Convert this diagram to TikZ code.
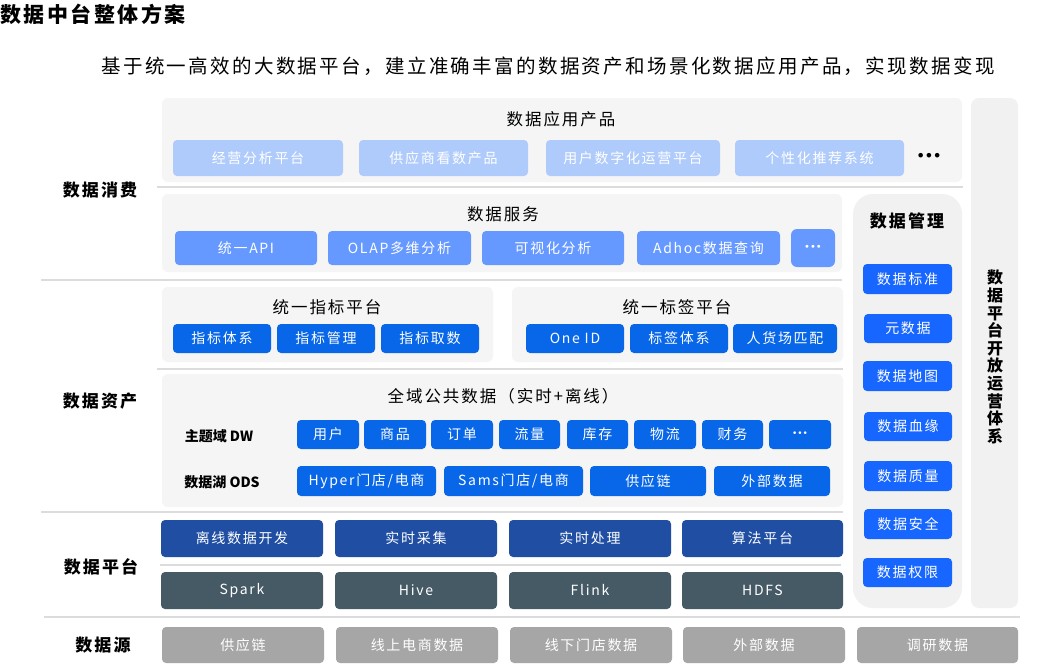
\documentclass[tikz,border=0pt]{standalone}
\usepackage{fontspec}
\setmainfont{Noto Sans CJK SC}
\newfontfamily\spfont{Noto Sans CJK SC}[LetterSpace=12]
\newfontfamily\dotfont{DejaVu Sans}
\definecolor{panelgray}{HTML}{F5F5F5}
\definecolor{colgray}{HTML}{F1F1F1}
\definecolor{sepgray}{HTML}{DCDCDC}
\definecolor{appblue}{HTML}{AFCBFC}
\definecolor{svcblue}{HTML}{6699FF}
\definecolor{idxblue}{HTML}{0866E8}
\definecolor{mgmtblue}{HTML}{1766FF}
\definecolor{pfone}{HTML}{1F4EA3}
\definecolor{pftwo}{HTML}{465A66}
\definecolor{srcgray}{HTML}{A6A6A6}
\newcommand\bx[7]{\node[#1,minimum width={#5-#3},minimum height={#6-#4}] (#2) at ({(#3+#5)/2},{(#4+#6)/2}) {#7};}
\tikzset{
  panel/.style={fill=panelgray,draw=none,rounded corners=6pt,inner sep=0pt},
  colbox/.style={fill=colgray,draw=none,inner sep=0pt},
  bxbase/.style={rectangle,rounded corners=4pt,text=white,inner sep=0pt,font=\spfont\fontsize{14}{14}\selectfont},
  appbox/.style={bxbase,fill=appblue},
  svcbox/.style={bxbase,fill=svcblue},
  idxbox/.style={bxbase,fill=idxblue},
  mgmtbox/.style={bxbase,fill=mgmtblue},
  pfonebox/.style={bxbase,fill=pfone},
  pftwobox/.style={bxbase,fill=pftwo},
  srcbox/.style={bxbase,fill=srcgray},
  sepline/.style={draw=sepgray,line width=1.2pt},
  lbl/.style={font=\spfont\bfseries\fontsize{17}{17}\selectfont},
  rowlbl/.style={font=\bfseries\fontsize{14}{14}\selectfont},
  ptitle/.style={font=\spfont\fontsize{16.5}{16.5}\selectfont},
}
\begin{document}
\begin{tikzpicture}[x=1pt,y=-1pt]
\useasboundingbox[fill=white] (0,0) rectangle (1041,670);
% title and subtitle
\node[anchor=west,inner sep=0pt,font=\spfont\bfseries\fontsize{21}{21}\selectfont] (title) at (0,14) {数据中台整体方案};
\node[inner sep=0pt,font=\spfont\fontsize{19.5}{19.5}\selectfont] (subtitle) at (548,66) {基于统一高效的大数据平台，建立准确丰富的数据资产和场景化数据应用产品，实现数据变现};
% right columns
\bx{colbox,rounded corners=8pt}{opencol}{971}{98}{1018}{608}{}
\node[inner sep=0pt,align=center,font=\bfseries\fontsize{16}{17.6}\selectfont] (opentxt) at (995,357) {数\\据\\平\\台\\开\\放\\运\\营\\体\\系};
\bx{colbox,rounded corners=20pt}{mgmtcol}{853}{194}{962}{608}{}
\node[lbl] (mgmttitle) at (907,221) {数据管理};
\bx{mgmtbox}{m1}{863}{264}{952}{294}{数据标准}
\bx{mgmtbox}{m2}{864}{314}{952}{343}{元数据}
\bx{mgmtbox}{m3}{863}{361}{952}{391}{数据地图}
\bx{mgmtbox}{m4}{864}{412}{952}{441}{数据血缘}
\bx{mgmtbox}{m5}{864}{461}{952}{491}{数据质量}
\bx{mgmtbox}{m6}{864}{509}{952}{539}{数据安全}
\bx{mgmtbox}{m7}{863}{558}{952}{587}{数据权限}
% separators
\coordinate (s1a) at (157,187); \coordinate (s1b) at (963,187);
\coordinate (s2a) at (41,280);  \coordinate (s2b) at (842,280);
\coordinate (s3a) at (157,369); \coordinate (s3b) at (843,369);
\coordinate (s4a) at (41,512);  \coordinate (s4b) at (843,512);
\coordinate (s5a) at (160,565); \coordinate (s5b) at (841,565);
\coordinate (s6a) at (44,617);  \coordinate (s6b) at (1020,617);
\draw[sepline] (s1a) -- (s1b);
\draw[sepline] (s2a) -- (s2b);
\draw[sepline] (s3a) -- (s3b);
\draw[sepline] (s4a) -- (s4b);
\draw[sepline] (s5a) -- (s5b);
\draw[sepline] (s6a) -- (s6b);
% left labels
\node[lbl] (lconsume) at (100,190) {数据消费};
\node[lbl] (lasset) at (100,401) {数据资产};
\node[lbl] (lplatform) at (101,567) {数据平台};
\node[lbl] (lsource) at (103,645) {数据源};
% data application products
\bx{panel}{papp}{162}{98}{962}{182}{}
\node[ptitle] (tapp) at (561,119) {数据应用产品};
\bx{appbox}{a1}{173}{140}{343}{176}{经营分析平台}
\bx{appbox}{a2}{359}{140}{528}{176}{供应商看数产品}
\bx{appbox}{a3}{546}{140}{720}{176}{用户数字化运营平台}
\bx{appbox}{a4}{735}{140}{904}{176}{个性化推荐系统}
\node[inner sep=0pt,font=\dotfont\bfseries\fontsize{13}{13}\selectfont] (adots) at (929,157) {•••};
% data services
\bx{panel}{psvc}{162}{194}{842}{272}{}
\node[ptitle] (tsvc) at (503,214) {数据服务};
\bx{svcbox}{v1}{175}{231}{317}{265}{统一API}
\bx{svcbox}{v2}{328}{231}{471}{265}{OLAP多维分析}
\bx{svcbox}{v3}{482}{231}{624}{265}{可视化分析}
\bx{svcbox}{v4}{637}{231}{780}{265}{Adhoc数据查询}
\bx{svcbox,rounded corners=6pt,font=\dotfont\fontsize{10}{10}\selectfont}{v5}{791}{229}{835}{267}{•••}
% indicator platform
\bx{panel}{pidx}{162}{287}{493}{362}{}
\node[ptitle] (tidx) at (327,307) {统一指标平台};
\bx{idxbox}{i1}{173}{324}{271}{353}{指标体系}
\bx{idxbox}{i2}{277}{324}{375}{353}{指标管理}
\bx{idxbox}{i3}{381}{324}{479}{353}{指标取数}
% tag platform
\bx{panel}{ptag}{512}{287}{843}{362}{}
\node[ptitle] (ttag) at (677,307) {统一标签平台};
\bx{idxbox}{g1}{526}{324}{624}{353}{One ID}
\bx{idxbox}{g2}{630}{324}{728}{353}{标签体系}
\bx{idxbox}{g3}{733}{324}{837}{353}{人货场匹配}
% public data
\bx{panel}{ppub}{162}{374}{843}{507}{}
\node[ptitle] (tpub) at (503,396) {全域公共数据（实时+离线）};
\node[rowlbl] (ldw) at (219,436) {主题域 DW};
\node[rowlbl] (lods) at (222,482) {数据湖 ODS};
\bx{idxbox}{d1}{297}{420}{359}{449}{用户}
\bx{idxbox}{d2}{364}{420}{426}{449}{商品}
\bx{idxbox}{d3}{431}{420}{493}{449}{订单}
\bx{idxbox}{d4}{499}{420}{560}{449}{流量}
\bx{idxbox}{d5}{567}{420}{628}{449}{库存}
\bx{idxbox}{d6}{634}{420}{696}{449}{物流}
\bx{idxbox}{d7}{702}{420}{763}{449}{财务}
\bx{idxbox,font=\dotfont\fontsize{9}{9}\selectfont}{d8}{769}{420}{831}{449}{•••}
\bx{idxbox}{o1}{297}{466}{436}{496}{Hyper门店/电商}
\bx{idxbox}{o2}{444}{466}{583}{496}{Sams门店/电商}
\bx{idxbox}{o3}{590}{466}{706}{496}{供应链}
\bx{idxbox}{o4}{714}{466}{830}{496}{外部数据}
% platform
\bx{pfonebox}{f1}{161}{520}{323}{557}{离线数据开发}
\bx{pfonebox}{f2}{335}{520}{497}{557}{实时采集}
\bx{pfonebox}{f3}{509}{520}{671}{557}{实时处理}
\bx{pfonebox}{f4}{682}{520}{843}{557}{算法平台}
\bx{pftwobox}{e1}{161}{572}{323}{609}{Spark}
\bx{pftwobox}{e2}{335}{572}{497}{609}{Hive}
\bx{pftwobox}{e3}{509}{572}{671}{609}{Flink}
\bx{pftwobox}{e4}{682}{572}{843}{609}{HDFS}
% sources
\bx{srcbox}{r1}{162}{627}{324}{663}{供应链}
\bx{srcbox}{r2}{336}{627}{498}{663}{线上电商数据}
\bx{srcbox}{r3}{510}{627}{672}{663}{线下门店数据}
\bx{srcbox}{r4}{683}{627}{845}{663}{外部数据}
\bx{srcbox}{r5}{857}{627}{1018}{663}{调研数据}
\end{tikzpicture}
\end{document}
